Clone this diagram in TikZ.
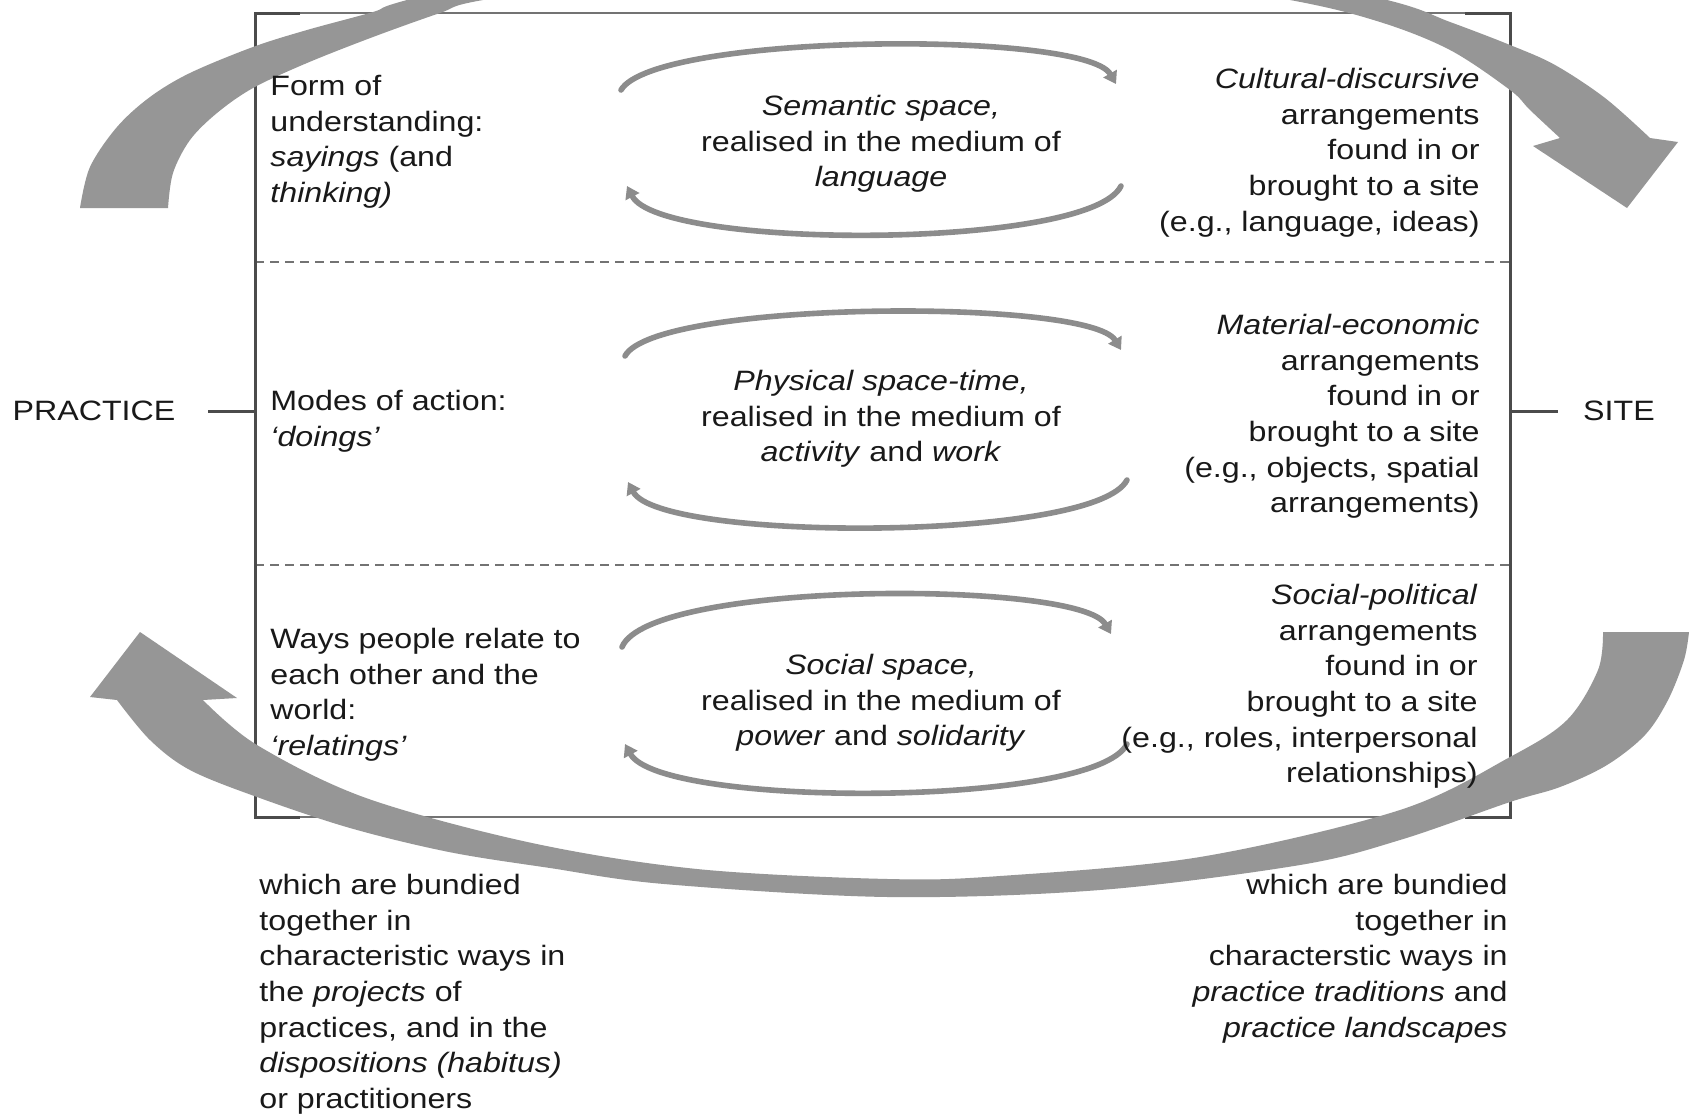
\documentclass[tikz,border=0pt]{standalone}
\usepackage{fontspec}
\setmainfont{Liberation Sans}[FakeStretch=1.15]
\usetikzlibrary{arrows.meta,calc}
\definecolor{bandgray}{RGB}{150,150,150}
\definecolor{ringgray}{RGB}{140,140,140}
\definecolor{boxgray}{RGB}{115,115,115}
\definecolor{brk}{RGB}{75,75,75}
\definecolor{ink}{RGB}{25,25,25}
\begin{document}
\begin{tikzpicture}[x=0.5pt,y=-0.5pt,
  txt/.style={inner sep=0pt, text=ink, font=\fontsize{14pt}{17.8pt}\selectfont},
  boxline/.style={draw=boxgray, line width=1.1pt},
  divline/.style={draw=boxgray, line width=1.2pt, dash pattern=on 4.5pt off 3pt},
  bracket/.style={draw=brk, line width=1.5pt},
  ring/.style={draw=ringgray, line width=2.8pt, line cap=round, -{Triangle[length=6pt,width=7.5pt]}},
  band/.style={fill=bandgray}]
\useasboundingbox (0,0) rectangle (1691,1114);
\fill[white] (0,0) rectangle (1691,1114);

% frame
\coordinate (tl) at (255,13);
\coordinate (tr) at (1510,13);
\coordinate (bl) at (255,817);
\coordinate (br) at (1510,817);
\draw[boxline] (tl) -- (tr);
\draw[boxline] (bl) -- (br);
\coordinate (d1l) at (255,262); \coordinate (d1r) at (1510,262);
\coordinate (d2l) at (255,565); \coordinate (d2r) at (1510,565);
\draw[divline] (d1l) -- (d1r);
\draw[divline] (d2l) -- (d2r);
% brackets
\draw[bracket] ($(tl)+(45,0)$) -- (tl) -- (bl) -- ++(45,0);
\draw[bracket] ($(tr)+(-45,0)$) -- (tr) -- (br) -- ++(-45,0);
\coordinate (lmid) at (255,411);
\coordinate (ltip) at (208,411);
\coordinate (rmid) at (1510,411);
\coordinate (rtip) at (1558,411);
\draw[bracket] (lmid) -- (ltip);
\draw[bracket] (rmid) -- (rtip);

% cycles in the rows
\draw[ring] (621,90) .. controls (655,33) and (1085,30) .. (1116,84);
\draw[ring] (1121,186) .. controls (1090,250) and (660,250) .. (627,186);
\draw[ring] (625,356) .. controls (655,300) and (1090,298) .. (1121,350);
\draw[ring] (1127,480) .. controls (1095,542) and (660,542) .. (628,482);
\draw[ring] (622,647) .. controls (650,580) and (1080,580) .. (1111,634);
\draw[ring] (1127,744) .. controls (1095,808) and (660,808) .. (625,744);

% big arrows
\begin{scope}
\clip (0,0) rectangle (1691,1114);
\fill[band] plot[smooth,tension=0.55] coordinates {(80,208) (90,167) (117,127) (150,97) (190,73) (253,47) (307,30) (373,12) (407,0) (600,-50) (900,-70) (1200,-40) (1387,0) (1450,22) (1510,45) (1555,65) (1605,98) (1650,138)}
  -- (1678,142) -- (1627,208) -- (1533,146) -- (1560,138)
  -- plot[smooth,tension=0.55] coordinates {(1560,138) (1530,110) (1510,90) (1450,50) (1380,22) (1290,0) (1100,-30) (900,-40) (680,-30) (483,0) (440,13) (373,37) (307,63) (253,88) (217,113) (190,140) (173,173) (168,208)}
  -- cycle;
\fill[band] plot[smooth,tension=0.55] coordinates {(1603,632) (1598,670) (1567,720) (1510,757) (1400,810) (1200,857) (1000,876) (888,879) (697,869) (532,843) (366,798) (257,745) (203,700)}
  -- (237,698) -- (140,632) -- (90,697) -- (117,700)
  -- plot[smooth,tension=0.55] coordinates {(117,700) (150,740) (190,770) (257,797) (350,828) (449,852) (550,868) (664,884) (888,897) (1100,890) (1300,865) (1400,840) (1510,802) (1560,787) (1607,765) (1645,735) (1668,700) (1684,660) (1689,632)}
  -- cycle;
\end{scope}

% texts
\node[txt, anchor=north west, align=left] (f1) at (270,75) {Form of\\understanding:\\\textit{sayings} (and\\\textit{thinking)}};
\node[txt, anchor=north west, align=left] (f2) at (270,390) {Modes of action:\\\textit{`doings'}};
\node[txt, anchor=north west, align=left] (f3) at (270,628) {Ways people relate to\\each other and the\\world:\\\textit{`relatings'}};

\node[txt, anchor=north, align=center] (m1) at (881,95) {\textit{Semantic space,}\\realised in the medium of\\\textit{language}};
\node[txt, anchor=north, align=center] (m2) at (881,370) {\textit{Physical space-time,}\\realised in the medium of\\\textit{activity} and \textit{work}};
\node[txt, anchor=north, align=center] (m3) at (881,654) {\textit{Social space,}\\realised in the medium of\\\textit{power} and \textit{solidarity}};

\node[txt, anchor=north east, align=right] (c1) at (1480,68) {\textit{Cultural-discursive}\\arrangements\\found in or\\brought to a site\\(e.g., language, ideas)};
\node[txt, anchor=north east, align=right] (c2) at (1480,314) {\textit{Material-economic}\\arrangements\\found in or\\brought to a site\\(e.g., objects, spatial\\arrangements)};
\node[txt, anchor=north east, align=right] (c3) at (1478,584) {\textit{Social-political}\\arrangements\\found in or\\brought to a site\\(e.g., roles, interpersonal\\relationships)};

\node[txt, anchor=north west, align=left] (b1) at (259,874) {which are bundied\\together in\\characteristic ways in\\the \textit{projects} of\\practices, and in the\\\textit{dispositions (habitus)}\\or practitioners};
\node[txt, anchor=north east, align=right] (b2) at (1508,874) {which are bundied\\together in\\characterstic ways in\\\textit{practice traditions} and\\\textit{practice landscapes}};

\node[txt] (practice) at (94,411) {PRACTICE};
\node[txt] (site) at (1619,411) {SITE};
\end{tikzpicture}
\end{document}
